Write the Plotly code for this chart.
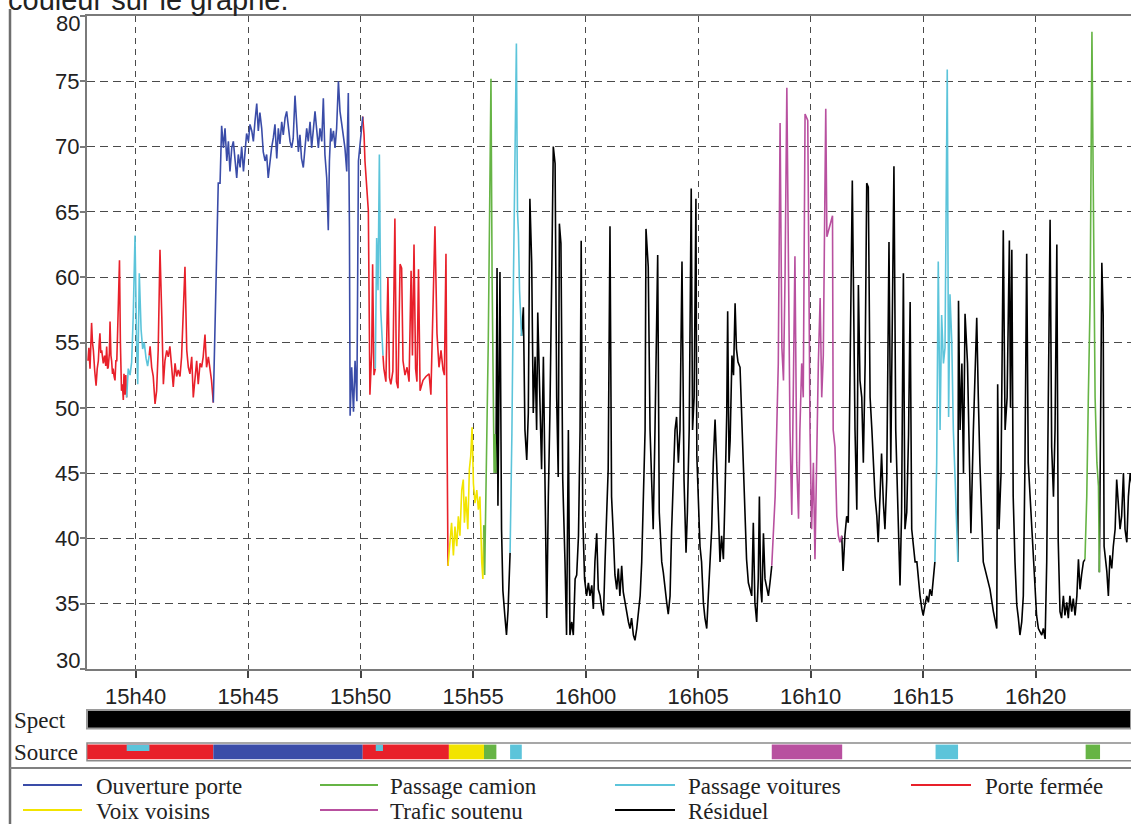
import plotly.graph_objects as go
from datetime import datetime, timedelta

# ---------------- data (time in minutes after 15h00, level in dB) ----------------
t_min = [
    # porte fermée
    37.88, 37.92, 37.97, 38.04, 38.08, 38.12, 38.18, 38.24, 38.29, 38.34, 38.38, 38.41, 38.45, 38.49,
    38.56, 38.62, 38.67, 38.71, 38.75, 38.78, 38.83, 38.86, 38.90, 38.93, 38.97, 39.00, 39.04, 39.08,
    39.12, 39.16, 39.20, 39.23, 39.28, 39.32, 39.37, 39.41, 39.45, 39.48, 39.52, 39.56, 39.60,
    # passage voitures
    39.67, 39.75, 39.82, 39.89, 39.97, 40.04, 40.09, 40.16, 40.24, 40.31, 40.38, 40.46, 40.53, 40.60,
    # porte fermée
    40.64, 40.71, 40.78, 40.86, 40.93, 41.00, 41.08, 41.16, 41.23, 41.30, 41.38, 41.45, 41.52, 41.60,
    41.67, 41.75, 41.82, 41.89, 41.97, 42.04, 42.12, 42.19, 42.27, 42.34, 42.41, 42.49, 42.56, 42.64,
    42.71, 42.78, 42.86, 42.93, 43.00, 43.08, 43.15, 43.23, 43.30, 43.37, 43.45,
    # ouverture porte
    43.57, 43.67, 43.75, 43.82, 43.90, 43.97, 44.05, 44.12, 44.19, 44.27, 44.34, 44.41, 44.49, 44.56,
    44.64, 44.71, 44.79, 44.86, 44.93, 45.01, 45.08, 45.16, 45.23, 45.30, 45.38, 45.45, 45.52, 45.60,
    45.67, 45.75, 45.82, 45.89, 45.97, 46.04, 46.12, 46.19, 46.27, 46.34, 46.41, 46.49, 46.56, 46.64,
    46.71, 46.78, 46.86, 46.93, 47.00, 47.08, 47.15, 47.23, 47.30, 47.37, 47.45, 47.52, 47.60, 47.67,
    47.75, 47.82, 47.90, 47.97, 48.05, 48.12, 48.19, 48.27, 48.34, 48.41, 48.49, 48.56, 48.61, 48.67,
    48.71, 48.79, 48.86, 48.93, 49.01, 49.08, 49.16, 49.23, 49.30, 49.38, 49.45, 49.50, 49.53, 49.60,
    49.68, 49.75, 49.83, 49.90, 49.97, 50.05, 50.09,
    # porte fermée (+ passage voitures)
    50.15, 50.19, 50.26, 50.34, 50.41, 50.49, 50.53, 50.59, 50.65, 50.71, 50.77, 50.83, 50.89, 50.95,
    50.99, 51.03, 51.12, 51.21, 51.28, 51.34, 51.43, 51.52, 51.59, 51.66, 51.75, 51.82, 51.88, 51.97,
    52.06, 52.15, 52.24, 52.30, 52.37, 52.44, 52.50, 52.57, 52.64, 52.77, 52.90, 53.04, 53.12, 53.21,
    53.30, 53.39, 53.48, 53.57, 53.66, 53.72, 53.79, 53.83, 53.88,
    # voix voisins
    53.97, 54.04, 54.12, 54.19, 54.27, 54.34, 54.41, 54.49, 54.56, 54.61, 54.68, 54.76, 54.83, 54.89,
    54.95, 55.01, 55.08, 55.16, 55.23, 55.30, 55.38, 55.43, 55.47,
    # passage camion
    55.51, 55.55, 55.61, 55.67, 55.73, 55.79, 55.84, 55.88, 55.93, 55.97, 56.01,
    # résiduel / passage voitures
    56.06, 56.10, 56.15, 56.19, 56.26, 56.32, 56.41, 56.48, 56.55, 56.64, 56.72, 56.79, 56.86, 56.92,
    56.97, 57.01, 57.06, 57.10, 57.15, 57.23, 57.30, 57.38, 57.45, 57.52, 57.60, 57.67, 57.75, 57.82,
    57.87, 57.97, 58.04, 58.12, 58.19, 58.27, 58.34, 58.41, 58.49, 58.56, 58.64, 58.71, 58.78, 58.83,
    58.90, 58.98, 59.08, 59.15, 59.23, 59.30, 59.38, 59.45, 59.53, 59.60, 59.68, 59.75, 59.80, 59.87,
    59.95, 60.04, 60.12, 60.19, 60.27, 60.34, 60.41, 60.49, 60.56, 60.64, 60.71, 60.79, 60.86, 60.94,
    61.00, 61.08, 61.15, 61.23, 61.30, 61.38, 61.45, 61.52, 61.60, 61.67, 61.75, 61.82, 61.90, 61.97,
    62.04, 62.12, 62.19, 62.27, 62.34, 62.42, 62.49, 62.56, 62.64, 62.68, 62.78, 62.86, 62.94, 63.00,
    63.08, 63.20, 63.27, 63.38, 63.45, 63.52, 63.60, 63.67, 63.75, 63.82, 63.90, 63.97, 64.04, 64.12,
    64.19, 64.28, 64.37, 64.46, 64.52, 64.60, 64.69, 64.75, 64.82, 64.90, 64.94, 65.00, 65.08, 65.15,
    65.23, 65.30, 65.38, 65.45, 65.52, 65.60, 65.67, 65.75, 65.82, 65.90, 65.97, 66.04, 66.12, 66.19,
    66.27, 66.31, 66.37, 66.42, 66.50, 66.57, 66.64, 66.70, 66.77, 66.86, 67.00, 67.08, 67.15, 67.23,
    67.30, 67.38, 67.45, 67.52, 67.60, 67.67, 67.72, 67.78, 67.83, 67.90, 67.97, 68.05, 68.12, 68.19,
    68.27,
    # trafic soutenu
    68.34, 68.42, 68.49, 68.56, 68.64, 68.72, 68.79, 68.86, 68.94, 69.00, 69.08, 69.16, 69.23, 69.30,
    69.38, 69.46, 69.52, 69.60, 69.67, 69.75, 69.87, 69.97, 70.04, 70.12, 70.19, 70.30, 70.34, 70.42,
    70.49, 70.56, 70.67, 70.72, 70.79, 70.86, 70.97, 71.00, 71.08, 71.16, 71.23, 71.30, 71.38,
    # résiduel
    71.44, 71.52, 71.60, 71.67, 71.75, 71.85, 71.97, 72.05, 72.12, 72.19, 72.27, 72.34, 72.42, 72.49,
    72.56, 72.64, 72.72, 72.79, 72.86, 72.94, 73.00, 73.08, 73.15, 73.23, 73.30, 73.38, 73.48, 73.56,
    73.63, 73.70, 73.78, 73.89, 73.97, 74.04, 74.12, 74.19, 74.27, 74.35, 74.42, 74.49, 74.56, 74.64,
    74.72, 74.79, 74.86, 74.94, 75.00, 75.08, 75.16, 75.23, 75.30, 75.38, 75.45, 75.52,
    # passage voitures
    75.60, 75.67, 75.75, 75.82, 75.90, 75.97, 76.07, 76.13, 76.19, 76.27, 76.34, 76.42, 76.49, 76.54,
    # résiduel
    76.57, 76.64, 76.72, 76.79, 76.86, 76.97, 77.05, 77.12, 77.23, 77.38, 77.45, 77.52, 77.67, 77.82,
    77.97, 78.12, 78.27, 78.31, 78.37, 78.46, 78.56, 78.64, 78.73, 78.83, 78.88, 78.94, 79.00, 79.08,
    79.16, 79.23, 79.30, 79.38, 79.45, 79.52, 79.60, 79.67, 79.75, 79.82, 79.90, 79.97, 80.04, 80.12,
    80.19, 80.27, 80.34, 80.42, 80.49, 80.56, 80.64, 80.71, 80.79, 80.86, 80.94, 81.00, 81.08, 81.15,
    81.23, 81.30, 81.38, 81.45, 81.52, 81.60, 81.67, 81.75, 81.83, 81.90, 81.97, 82.04, 82.12, 82.19,
    # passage camion
    82.27, 82.34, 82.42, 82.50, 82.57, 82.64, 82.72, 82.79, 82.83,
    # résiduel
    82.94, 83.00, 83.04, 83.16, 83.23, 83.30, 83.38, 83.45, 83.53, 83.60, 83.68, 83.75, 83.82, 83.90,
    83.97, 84.05, 84.12, 84.20, 84.29,
]

level_db = [
    53.6, 54.6, 53.0, 56.5, 55.0, 54.4, 52.8, 51.7, 53.0, 53.6, 55.0, 55.7, 54.2, 54.4,
    53.4, 54.0, 53.2, 54.7, 53.0, 53.1, 54.2, 56.6, 54.0, 53.6, 52.6, 53.0, 52.4, 52.1,
    53.6, 53.6, 56.0, 58.3, 61.3, 55.0, 51.3, 51.8, 50.6, 52.6, 51.0, 52.5, 50.8,
    53.0, 52.5, 53.5, 57.0, 63.2, 55.0, 51.8, 60.3, 56.0, 54.5, 55.0, 53.8, 53.2, 54.0,
    54.7, 53.1, 52.4, 50.3, 51.3, 54.4, 62.1, 57.0, 51.8, 53.6, 54.4, 53.9, 54.7, 53.1,
    51.6, 53.4, 52.4, 52.9, 52.4, 53.9, 57.5, 60.8, 54.4, 53.1, 52.6, 53.9, 50.8, 52.6,
    53.6, 51.8, 53.4, 53.1, 53.9, 55.6, 53.1, 53.9, 52.9, 52.1, 50.4,
    58.7, 67.2, 67.2, 71.6, 69.9, 71.4, 68.9, 70.4, 68.1, 69.9, 70.4, 68.9, 67.6, 69.4,
    68.4, 70.0, 68.1, 69.6, 71.0, 70.4, 71.7, 71.2, 70.4, 71.9, 73.3, 71.2, 72.6, 71.4,
    69.6, 68.9, 69.4, 67.6, 68.9, 69.9, 70.7, 71.7, 69.1, 71.4, 70.2, 71.9, 70.9, 72.2,
    72.7, 71.4, 70.4, 69.9, 70.6, 73.9, 71.4, 69.6, 70.9, 69.1, 68.4, 70.2, 71.4, 70.4,
    71.9, 69.9, 71.2, 72.7, 71.2, 69.9, 71.4, 70.4, 73.7, 69.4, 67.6, 63.6, 68.9, 71.4,
    70.4, 71.2, 69.9, 71.4, 75.0, 72.7, 71.7, 70.7, 69.9, 68.1, 74.1, 63.8, 49.4, 53.1,
    49.7, 53.6, 50.5, 68.9, 70.4, 71.9, 72.3,
    70.9, 68.9, 66.8, 65.1, 51.0, 54.3, 61.0, 52.5, 53.0, 63.0, 59.0, 69.4, 57.5, 54.5,
    54.0, 53.0, 52.0, 60.0, 52.3, 51.8, 52.8, 64.5, 52.0, 51.5, 61.0, 60.7, 53.6, 52.5,
    53.1, 52.0, 60.5, 54.0, 62.5, 53.0, 52.0, 60.6, 51.3, 52.1, 52.4, 52.6, 51.0, 57.0,
    63.9, 55.7, 53.1, 54.4, 52.9, 52.5, 61.8, 50.0, 37.9,
    39.7, 41.2, 38.7, 40.9, 39.4, 41.7, 40.2, 43.7, 44.5, 41.2, 43.2, 40.7, 45.3, 46.3,
    48.5, 44.2, 42.7, 43.7, 42.2, 43.2, 38.2, 36.9, 41.0,
    37.2, 41.7, 47.0, 55.0, 65.0, 75.2, 60.0, 50.0, 45.0, 48.0, 45.0,
    60.7, 42.5, 52.0, 60.4, 40.7, 36.0, 34.0, 32.6, 34.5, 38.9, 48.0, 60.0, 70.0, 77.9,
    65.0, 63.4, 59.0, 57.0, 55.5, 57.7, 48.3, 46.0, 49.6, 66.0, 61.1, 49.6, 53.9, 48.3,
    57.3, 50.8, 45.3, 53.9, 44.5, 33.9, 43.2, 49.6, 60.0, 70.0, 68.7, 50.8, 44.7, 64.1,
    62.6, 44.5, 38.2, 32.6, 48.3, 32.6, 33.6, 32.6, 36.9, 37.2, 40.2, 48.3, 62.8, 41.7,
    36.9, 35.6, 36.6, 35.6, 36.4, 34.6, 38.2, 40.4, 36.1, 35.6, 34.6, 34.1, 38.2, 41.7,
    45.3, 63.9, 43.2, 40.2, 37.2, 36.1, 37.7, 35.6, 37.9, 35.9, 35.1, 34.1, 33.6, 33.1,
    33.9, 32.6, 32.2, 33.1, 34.1, 35.6, 38.2, 43.2, 48.3, 63.7, 60.8, 48.3, 43.2, 40.7,
    48.3, 61.7, 42.0, 38.2, 37.4, 36.1, 35.1, 34.2, 35.6, 40.7, 44.5, 48.3, 49.3, 45.8,
    48.3, 61.2, 44.5, 38.9, 42.0, 48.3, 66.8, 48.3, 50.8, 66.0, 46.3, 43.2, 39.4, 38.2,
    35.1, 33.9, 33.1, 35.6, 38.2, 40.7, 45.8, 49.1, 45.8, 42.0, 38.2, 40.2, 38.4, 43.2,
    49.6, 57.4, 45.8, 47.5, 54.0, 52.5, 58.0, 54.5, 53.5, 53.1, 46.3, 41.5, 38.4, 36.6,
    36.1, 35.6, 41.2, 35.1, 33.6, 36.9, 43.2, 36.1, 35.1, 40.4, 36.9, 36.1, 35.6, 36.6,
    37.9,
    40.2, 43.2, 48.3, 53.4, 71.8, 54.6, 52.1, 60.0, 74.5, 64.9, 48.3, 41.8, 50.8, 61.6,
    45.8, 41.5, 48.3, 53.4, 50.8, 72.5, 72.0, 48.3, 40.7, 45.8, 38.4, 50.1, 53.4, 58.4,
    50.8, 54.0, 72.9, 63.1, 63.6, 64.1, 64.7, 48.3, 47.0, 41.7, 40.2, 39.7, 40.2,
    37.5, 40.2, 41.7, 41.2, 55.0, 67.4, 48.3, 42.2, 59.4, 52.1, 50.8, 45.8, 53.4, 67.2,
    66.9, 50.8, 48.3, 45.5, 43.2, 41.7, 39.7, 43.2, 46.5, 42.7, 40.7, 44.5, 62.7, 45.8,
    55.0, 68.5, 48.3, 40.7, 36.4, 42.0, 60.3, 40.7, 42.0, 48.0, 58.1, 40.7, 39.4, 38.2,
    38.2, 36.6, 35.6, 34.6, 34.1, 34.9, 35.6, 35.1, 36.1, 35.6, 37.2, 38.2,
    45.8, 61.2, 48.3, 57.1, 53.4, 54.6, 75.9, 49.3, 58.7, 55.1, 48.3, 44.5, 40.7, 38.2,
    58.2, 48.3, 53.4, 45.0, 57.2, 53.4, 46.5, 40.4, 48.3, 56.9, 50.8, 45.8, 38.2, 37.2,
    36.1, 34.4, 33.1, 51.8, 40.7, 45.0, 63.6, 48.3, 50.8, 62.8, 50.0, 62.1, 43.2, 38.2,
    34.9, 33.9, 32.6, 33.6, 35.6, 45.3, 61.8, 45.8, 43.2, 40.7, 38.2, 36.1, 34.1, 33.1,
    32.9, 32.6, 33.1, 32.3, 38.2, 48.3, 64.4, 47.0, 43.2, 48.3, 62.5, 39.9, 34.4, 33.9,
    35.6, 34.1, 35.1, 33.9, 35.6, 34.4, 35.4, 34.1, 35.6, 38.4, 36.1, 37.2, 38.2, 38.4,
    43.2, 50.8, 58.3, 78.8, 61.1, 50.8, 45.8, 44.0, 37.4,
    61.1, 57.1, 39.4, 37.5, 35.6, 38.7, 37.7, 39.4, 40.7, 44.5, 42.0, 40.7, 41.7, 45.0,
    40.7, 39.7, 43.2, 45.0, 44.0,
]

# identified sources (periods in minutes after 15h00)
seg_source = ["Porte fermée", "Ouverture porte", "Porte fermée", "Voix voisins", "Passage camion",
              "Passage voitures", "Trafic soutenu", "Passage voitures", "Passage camion"]
seg_start = [37.85, 43.45, 50.09, 53.92, 55.48, 56.64, 68.27, 75.55, 82.22]
seg_end = [43.45, 50.09, 53.92, 55.48, 56.03, 57.16, 71.40, 76.55, 82.86]

# short events superimposed on another source
event_source = ["Passage voitures", "Passage voitures"]
event_start = [39.60, 50.67]
event_end = [40.61, 50.99]

tick_minutes = [40, 45, 50, 55, 60, 65, 70, 75, 80]
y_ticks = [30, 35, 40, 45, 50, 55, 60, 65, 70, 75, 80]

legend_rows = [["Ouverture porte", "Passage camion", "Passage voitures", "Porte fermée"],
               ["Voix voisins", "Trafic soutenu", "Résiduel"]]

colors = {
    "Ouverture porte": "#3A4CA8",
    "Passage camion": "#66B445",
    "Passage voitures": "#5CC4DA",
    "Porte fermée": "#E8202A",
    "Voix voisins": "#F2E400",
    "Trafic soutenu": "#B8509F",
    "Résiduel": "#000000",
}

# ---------------- helpers ----------------
BASE = datetime(2000, 1, 1, 15, 0, 0)


def to_dt(m):
    return BASE + timedelta(minutes=m)


W, H = 1131, 824
ML, MR, MT, MB = 87, 0, 16, 56
PW = W - ML - MR
PH = H - MT - MB


def px(x):
    return (x - ML) / PW


def py(y):
    return (H - MB - y) / PH


def category(m):
    for s, a, b in zip(event_source, event_start, event_end):
        if a <= m < b:
            return s
    for s, a, b in zip(seg_source, seg_start, seg_end):
        if a <= m < b:
            return s
    return "Résiduel"


# split signal into coloured runs
runs = []
for i in range(len(t_min) - 1):
    c = category((t_min[i] + t_min[i + 1]) / 2)
    if runs and runs[-1][0] == c and runs[-1][2] == i:
        runs[-1][2] = i + 1
    else:
        runs.append([c, i, i + 1])

order = ["Résiduel", "Porte fermée", "Ouverture porte", "Voix voisins", "Passage camion",
         "Trafic soutenu", "Passage voitures"]
fig = go.Figure()
for name in order:
    xs, ys = [], []
    for c, i0, i1 in runs:
        if c != name:
            continue
        xs += [to_dt(m) for m in t_min[i0:i1 + 1]] + [None]
        ys += level_db[i0:i1 + 1] + [None]
    fig.add_trace(go.Scatter(x=xs, y=ys, mode="lines", name=name, showlegend=False,
                             line=dict(color=colors[name], width=1.6), connectgaps=False,
                             xaxis="x", yaxis="y"))

# invisible trace to activate the bottom strip subplot
fig.add_trace(go.Scatter(x=[to_dt(seg_start[0])], y=[0], mode="markers", marker=dict(opacity=0),
                         showlegend=False, hoverinfo="skip", xaxis="x2", yaxis="y2"))

shapes = []
# Spect row
shapes.append(dict(type="rect", xref="x2 domain", yref="y2", x0=0, x1=1, y0=33.5, y1=52,
                   fillcolor="black", line=dict(color="#9a9a9a", width=2)))
# Source row box
shapes.append(dict(type="rect", xref="x2 domain", yref="y2", x0=0, x1=1.01, y0=1.3, y1=19,
                   fillcolor="white", line=dict(color="#8a8a8a", width=1.5)))
for s, a, b in zip(seg_source, seg_start, seg_end):
    shapes.append(dict(type="rect", xref="x2", yref="y2", x0=to_dt(a), x1=to_dt(b), y0=2.8, y1=17.4,
                       fillcolor=colors[s], line=dict(width=0)))
for s, a, b in zip(event_source, event_start, event_end):
    shapes.append(dict(type="rect", xref="x2", yref="y2", x0=to_dt(a), x1=to_dt(b), y0=11, y1=17.4,
                       fillcolor=colors[s], line=dict(width=0)))

# outer frame
shapes.append(dict(type="line", xref="paper", yref="paper", x0=px(10), x1=px(10), y0=py(826), y1=py(9),
                   line=dict(color="#6e6e6e", width=2.5)))
shapes.append(dict(type="line", xref="paper", yref="paper", x0=px(10), x1=px(1135), y0=py(768), y1=py(768),
                   line=dict(color="#808080", width=2)))

annotations = []
# manual legend
col_line = [(23, 82), (320, 378), (615, 675), (911, 971)]
col_text = [94, 388, 686, 983]
row_y = [785, 810]
for r, row in enumerate(legend_rows):
    for c, name in enumerate(row):
        x0, x1 = col_line[c]
        shapes.append(dict(type="line", xref="paper", yref="paper", x0=px(x0), x1=px(x1),
                           y0=py(row_y[r]), y1=py(row_y[r]),
                           line=dict(color=colors[name], width=2)))
        annotations.append(dict(xref="paper", yref="paper", x=px(col_text[c]), y=py(row_y[r] + 1),
                                text=name, showarrow=False, xanchor="left", yanchor="middle",
                                font=dict(family="Liberation Serif", size=23, color="#222")))

annotations.append(dict(xref="paper", yref="paper", x=px(12), y=py(720), text="Spect", showarrow=False,
                        xanchor="left", yanchor="middle",
                        font=dict(family="Liberation Serif", size=23, color="#222")))
annotations.append(dict(xref="paper", yref="paper", x=px(12), y=py(752), text="Source", showarrow=False,
                        xanchor="left", yanchor="middle",
                        font=dict(family="Liberation Serif", size=23, color="#222")))
annotations.append(dict(xref="paper", yref="paper", x=px(6), y=py(0), text="couleur sur le graphe.",
                        showarrow=False, xanchor="left", yanchor="middle",
                        font=dict(family="Liberation Sans", size=29, color="#222")))

axis_font = dict(family="Liberation Sans", size=22, color="#222")

# end labels of the y axis are kept inside the frame, as in the original software
y_text = ["" if v in (y_ticks[0], y_ticks[-1]) else str(v) for v in y_ticks]
annotations.append(dict(xref="paper", yref="paper", x=px(82), y=py(24), text=str(y_ticks[-1]),
                        showarrow=False, xanchor="right", yanchor="middle", font=axis_font))
annotations.append(dict(xref="paper", yref="paper", x=px(82), y=py(660), text=str(y_ticks[0]),
                        showarrow=False, xanchor="right", yanchor="middle", font=axis_font))

fig.update_layout(
    width=W, height=H,
    margin=dict(l=ML, r=MR, t=MT, b=MB),
    paper_bgcolor="white", plot_bgcolor="white",
    showlegend=False,
    xaxis=dict(type="date", domain=[0, 1], anchor="y",
               range=[to_dt(37.836), to_dt(84.236)],
               tickvals=[to_dt(m) for m in tick_minutes], tickformat="%Hh%M",
               showgrid=True, gridcolor="#4a4a4a", gridwidth=1.3, griddash="6px,5px",
               showline=True, linecolor="#7a7a7a", linewidth=2, mirror=True,
               ticks="outside", ticklen=7, tickwidth=1.5, tickcolor="#444",
               tickfont=axis_font, zeroline=False),
    yaxis=dict(domain=[py(669), 1], anchor="x", range=[30, 80], tickvals=y_ticks, ticktext=y_text,
               showgrid=True, gridcolor="#4a4a4a", gridwidth=1.3, griddash="8px,5px",
               showline=True, linecolor="#7a7a7a", linewidth=2,
               ticks="outside", ticklen=5, tickwidth=1.5, tickcolor="#7a7a7a",
               ticklabelstandoff=-4,
               tickfont=axis_font, zeroline=False),
    xaxis2=dict(type="date", matches="x", anchor="y2", domain=[0, 1], visible=False),
    yaxis2=dict(domain=[py(762), py(706)], anchor="x2", range=[0, 56], visible=False, fixedrange=True),
    shapes=shapes,
    annotations=annotations,
)

fig.write_html("out.html")
